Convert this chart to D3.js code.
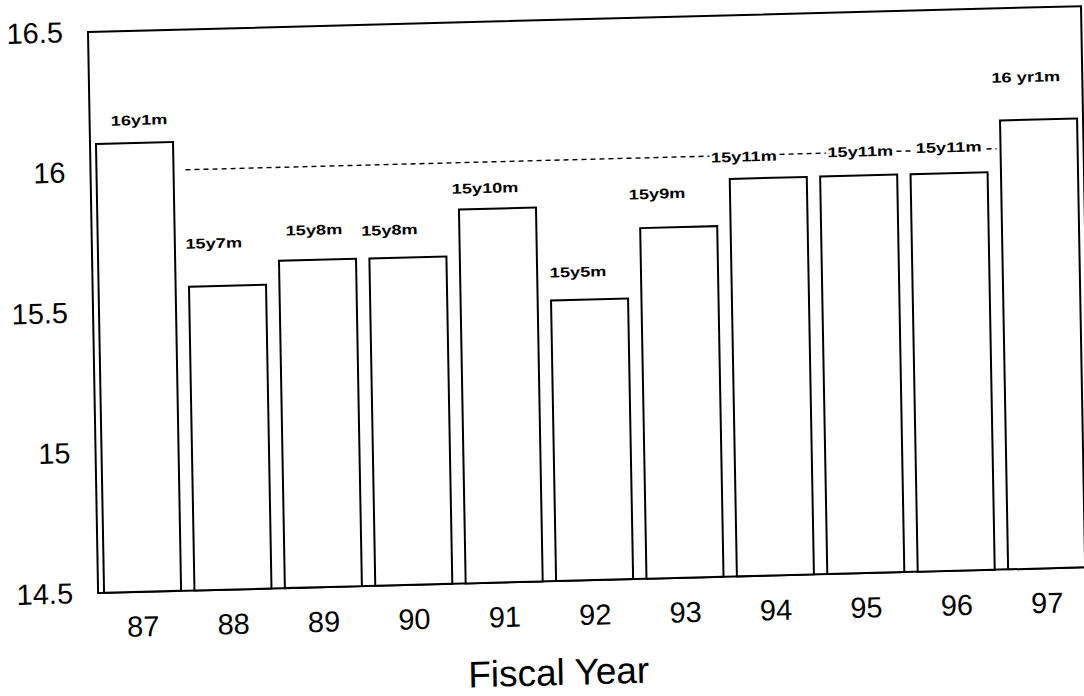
<!DOCTYPE html>
<html>
<head>
<meta charset="utf-8">
<script src="https://cdn.jsdelivr.net/npm/d3@7"></script>
<style>
  body { margin: 0; background: #fff; }
  svg { display: block; }
  text { font-family: "Liberation Sans", Arial, sans-serif; fill: #000; }
</style>
</head>
<body>
<div id="chart"></div>
<script>
// fiscal years and average age (years) per year
const years = ["87", "88", "89", "90", "91", "92", "93", "94", "95", "96", "97"];
const values = [16.1, 15.583, 15.667, 15.667, 15.833, 15.5, 15.75, 15.917, 15.917, 15.917, 16.1];
const valueLabels = ["16y1m", "15y7m", "15y8m", "15y8m", "15y10m", "15y5m", "15y9m", "15y11m", "15y11m", "15y11m", "16 yr1m"];
const yTicks = [14.5, 15, 15.5, 16, 16.5];
const refValue = 16;

// hand placed label nudges (pixels) as in the original
const labelDx = [5, -13, -3, -18, -12, -11, -21, -24, 2, 0, -12];
const labelDy = [-18, -38, -25, -23, -16, -23, -29, -17, -19, -21, -38];

const width = 1084, height = 696;
const plotW = 993, plotH = 561;

const svg = d3.select("#chart").append("svg")
  .attr("width", width)
  .attr("height", height);

svg.append("rect").attr("width", width).attr("height", height).attr("fill", "#fff");

// the scanned page is slightly tilted
const g = svg.append("g")
  .attr("transform", "matrix(1,-0.026,0.018,1,88,32)");

const x = d3.scaleBand()
  .domain(years)
  .range([0, plotW])
  .paddingInner(0.148)
  .paddingOuter(0.066);

const y = d3.scaleLinear()
  .domain([14.5, 16.5])
  .range([plotH, 0]);

// frame
g.append("rect")
  .attr("width", plotW)
  .attr("height", plotH)
  .attr("fill", "none")
  .attr("stroke", "#000")
  .attr("stroke-width", 2);

// reference line at 16 years
g.append("line")
  .attr("x1", x("87") + x.bandwidth() + 12)
  .attr("x2", x("97") - 4)
  .attr("y1", y(refValue))
  .attr("y2", y(refValue))
  .attr("stroke", "#000")
  .attr("stroke-width", 1.4)
  .attr("stroke-dasharray", "5,4");

// bars
g.selectAll(".bar")
  .data(years)
  .join("rect")
  .attr("class", "bar")
  .attr("x", d => x(d))
  .attr("y", (d, i) => y(values[i]))
  .attr("width", x.bandwidth())
  .attr("height", (d, i) => plotH - y(values[i]))
  .attr("fill", "#fff")
  .attr("stroke", "#000")
  .attr("stroke-width", 2);

// value labels
g.selectAll(".vlabel")
  .data(years)
  .join("text")
  .attr("class", "vlabel")
  .attr("transform", (d, i) => {
    const cx = x(d) + x.bandwidth() / 2 + labelDx[i];
    const cy = y(values[i]) + labelDy[i];
    return `translate(${cx},${cy}) scale(1.3,1)`;
  })
  .attr("text-anchor", "middle")
  .style("font-size", "14px")
  .style("font-weight", "bold")
  .style("stroke", "#fff")
  .style("stroke-width", 4)
  .style("paint-order", "stroke")
  .text((d, i) => valueLabels[i]);

// y axis
const yAxis = g.append("g")
  .call(d3.axisLeft(y).tickValues(yTicks).tickSize(0).tickPadding(25).tickFormat(d => String(d)));
yAxis.select(".domain").remove();
yAxis.selectAll("text")
  .style("font-size", "29px")
  .style("font-family", "'Liberation Sans', Arial, sans-serif");

// x axis
const xAxis = g.append("g")
  .attr("transform", `translate(0,${plotH})`)
  .call(d3.axisBottom(x).tickSize(0).tickPadding(24));
xAxis.select(".domain").remove();
xAxis.selectAll("text")
  .style("font-size", "29px")
  .style("font-family", "'Liberation Sans', Arial, sans-serif");

// axis title
g.append("text")
  .attr("x", 459)
  .attr("y", 665)
  .attr("text-anchor", "middle")
  .style("font-size", "37px")
  .text("Fiscal Year");
</script>
</body>
</html>
